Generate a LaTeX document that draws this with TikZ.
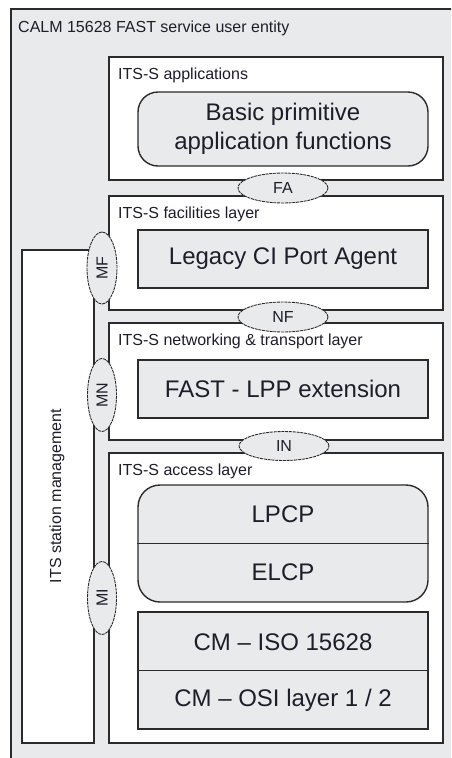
\documentclass[tikz,border=0pt]{standalone}
\usepackage{fontspec}
\setmainfont{Liberation Sans}
\usetikzlibrary{shapes.geometric}
\definecolor{bg}{HTML}{E9EAEC}
\definecolor{ln}{HTML}{2B2B2B}
\definecolor{tx}{HTML}{1E1E2A}
\begin{document}
\begin{tikzpicture}[x=1pt,y=-1pt,
  frame/.style={draw=ln, line width=1.4pt},
  layer/.style={frame, fill=white, rectangle, inner sep=0pt, minimum width=334pt},
  inbox/.style={frame, fill=bg, rectangle, inner sep=0pt, minimum width=290pt, text=tx,
     font=\fontsize{24}{29}\selectfont, align=center},
  iface/.style={draw=ln, line width=0.9pt, dash pattern=on 3pt off 0.8pt, fill=bg, ellipse,
     inner sep=0pt, text=tx, font=\fontsize{16}{19}\selectfont},
  small/.style={text=tx, font=\fontsize{16}{19}\selectfont, inner sep=0pt},
  big/.style={text=tx, font=\fontsize{24}{29}\selectfont, inner sep=0pt, align=center}]
\useasboundingbox (0,0) rectangle (451,758);
\clip (0,0) rectangle (451,758);
% outer entity
\draw[frame, fill=bg] (11,9) rectangle (470,780);
\node[small, anchor=base west] (title) at (18,32) {CALM 15628 FAST service user entity};
% management
\node[layer, minimum width=72pt, minimum height=493pt] (mgmt) at (58,496.5) {};
\node[small, rotate=90] (mgmtt) at (57,496) {ITS station management};
% layers
\node[layer, minimum height=123pt] (app) at (276,118.5) {};
\node[layer, minimum height=114pt] (fac) at (276,253) {};
\node[layer, minimum height=117pt] (net) at (276,381.5) {};
\node[layer, minimum height=290pt] (acc) at (276,598) {};
\node[small, anchor=base west] (appt) at (118,79) {ITS-S applications};
\node[small, anchor=base west] (fact) at (118,218) {ITS-S facilities layer};
\node[small, anchor=base west] (nett) at (118,345) {ITS-S networking \& transport layer};
\node[small, anchor=base west] (acct) at (118,475) {ITS-S access layer};
% inner boxes
\node[inbox, rounded corners=20pt, minimum height=74pt] (basic) at (283,129) {Basic primitive\\application functions};
\node[inbox, minimum height=58pt] (legacy) at (283,259) {Legacy CI Port Agent};
\node[inbox, minimum height=58pt] (fast) at (283,389) {FAST - LPP extension};
\node[inbox, rounded corners=22pt, minimum height=117pt] (lp) at (283,543.5) {};
\draw[frame] (lp.west) -- (lp.east);
\node[big] (lpcp) at (283,514) {LPCP};
\node[big] (elcp) at (283,572) {ELCP};
\node[inbox, minimum height=117pt] (cm) at (283,670.5) {};
\draw[frame] (cm.west) -- (cm.east);
\node[big] (iso) at (283,642) {CM – ISO 15628};
\node[big] (osi) at (283,700) {CM – OSI layer 1 / 2};
% interfaces
\node[iface, minimum width=90pt, minimum height=30pt] (FA) at (283,188) {FA};
\node[iface, minimum width=90pt, minimum height=30pt] (NF) at (283,317) {NF};
\node[iface, minimum width=90pt, minimum height=29pt] (IN) at (284,446) {IN};
\node[iface, rotate=90, minimum width=72pt, minimum height=30pt] (MF) at (102,268) {MF};
\node[iface, rotate=90, minimum width=73pt, minimum height=29pt] (MN) at (102,395) {MN};
\node[iface, rotate=90, minimum width=73pt, minimum height=29pt] (MI) at (102,598) {MI};
\end{tikzpicture}
\end{document}
